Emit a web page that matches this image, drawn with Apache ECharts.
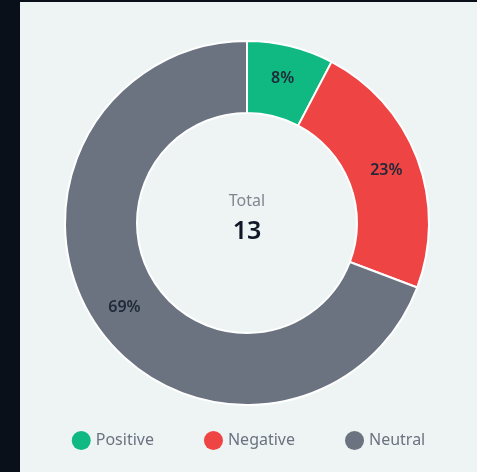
<!DOCTYPE html>
<html>
<head>
<meta charset="utf-8">
<script src="https://cdn.jsdelivr.net/npm/echarts@6/dist/echarts.min.js"></script>
<style>
  html, body { margin: 0; padding: 0; width: 477px; height: 472px; background: #0a1019; overflow: hidden; }
  #card { position: absolute; left: 20px; top: 2px; width: 457px; height: 470px; background: #eef4f4; }
  #chart { width: 100%; height: 100%; }
</style>
</head>
<body>
<div id="card"><div id="chart"></div></div>
<script>
// Sentiment breakdown
const categories = ['Positive', 'Negative', 'Neutral'];
const counts = [1, 3, 9];
const colors = ['#10b981', '#ef4444', '#6b7280'];
const centerTitle = 'Total';

const total = counts.reduce((a, b) => a + b, 0);
const font = '"Noto Sans", "Open Sans", sans-serif';
const cx = 227, cy = 221;

const chart = echarts.init(document.getElementById('chart'));
chart.setOption({
  backgroundColor: 'transparent',
  animation: false,
  color: colors,
  graphic: [
    {
      type: 'text', x: cx, y: cy - 22,
      style: {
        text: centerTitle, align: 'center', verticalAlign: 'middle',
        fontFamily: font, fontSize: 16, fill: '#80868f'
      }
    },
    {
      type: 'text', x: cx, y: cy + 9,
      style: {
        text: String(total), align: 'center', verticalAlign: 'middle',
        fontFamily: font, fontSize: 25, fontWeight: 600, fill: '#111827'
      }
    }
  ],
  legend: {
    data: categories,
    left: 'center',
    bottom: 17,
    icon: 'circle',
    itemWidth: 19,
    itemHeight: 19,
    itemGap: 50,
    itemStyle: { borderWidth: 0 },
    textStyle: { fontFamily: font, fontSize: 16, color: '#6b7280' }
  },
  series: [{
    type: 'pie',
    center: [cx, cy],
    radius: [110, 182],
    startAngle: 90,
    clockwise: true,
    avoidLabelOverlap: false,
    itemStyle: { borderColor: '#ffffff', borderWidth: 2 },
    label: {
      show: true,
      position: 'inside',
      formatter: p => Math.round(p.percent) + '%',
      fontFamily: font,
      fontSize: 16,
      fontWeight: 600,
      color: '#1f2937'
    },
    labelLine: { show: false },
    data: categories.map((name, i) => ({ name, value: counts[i] }))
  }]
});
</script>
</body>
</html>
